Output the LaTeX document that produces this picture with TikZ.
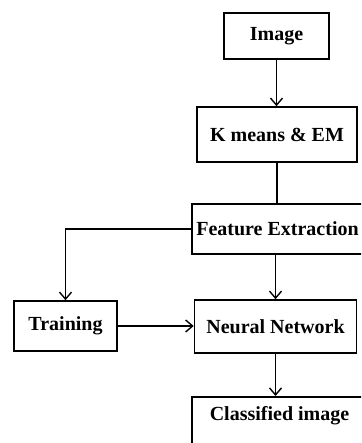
\documentclass[tikz,border=0pt]{standalone}
\usepackage{fontspec}
\setmainfont{Liberation Serif}
\usetikzlibrary{arrows.meta,positioning}

\begin{document}
\begin{tikzpicture}[x=1pt,y=-1pt,>={Straight Barb[length=7pt,width=12pt]},
    box/.style={draw,line width=1.6pt,inner sep=0pt,
      font=\fontsize{20}{24}\selectfont\bfseries},
    link/.style={line width=1.4pt}]
  \useasboundingbox (0,0) rectangle (361,443);
  \clip (0,0) rectangle (361,443);
  % main column
  \node[box,minimum width=105pt,minimum height=46pt] (img) at (276.5,36) {Image};
  \node[box,minimum width=160pt,minimum height=55pt] (kmeans) at (277,134.5)
    {K means \& EM};
  \node[box,minimum width=171pt,minimum height=50pt] (feat) at (277.5,229)
    {Feature Extraction};
  \node[box,minimum width=162pt,minimum height=53pt] (nnet) at (275.5,326.5)
    {Neural Network};
  \node[box,minimum width=175pt,anchor=north,text height=14pt,text depth=30pt,
    inner ysep=9.5pt] (clsimg) at (279.5,396) {Classified image};
  % side branch
  \node[box,minimum width=103pt,minimum height=50pt] (train) at (65.5,326)
    {Training};
  \draw[link,->] (img.south) -- (img.south |- kmeans.north);
  \draw[link] (kmeans.south) -- (kmeans.south |- feat.north);
  \draw[link,->] (nnet.north |- feat.south) -- (nnet.north);
  \draw[link,->] (feat.west) -| (train.north);
  \draw[link,->] (train.east) -- (train.east -| nnet.west);
  \draw[link,->] (nnet.south) -- (nnet.south |- clsimg.north);
\end{tikzpicture}
\end{document}
